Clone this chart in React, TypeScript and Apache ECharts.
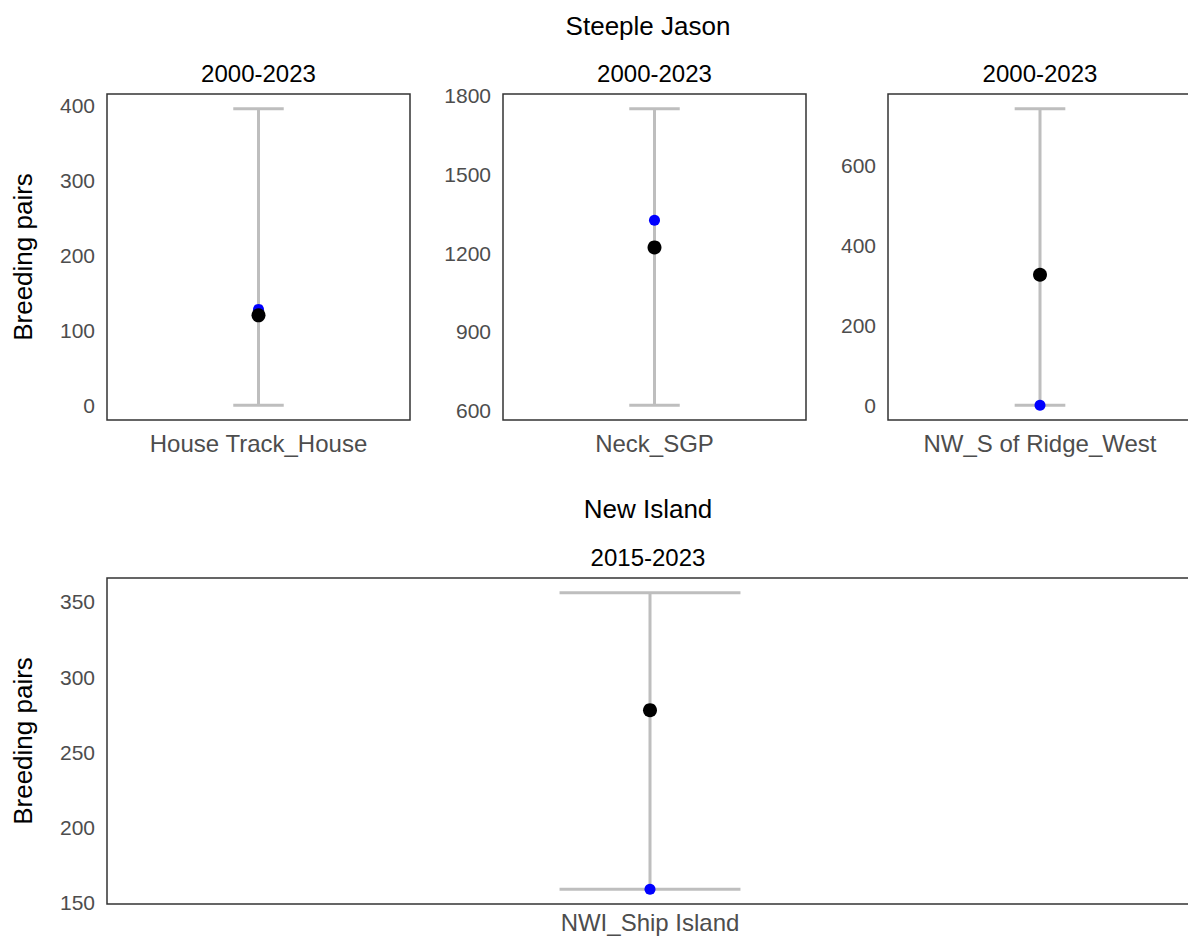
import React, { useEffect, useRef } from "react";
import * as echarts from "echarts";

// Breeding pairs per monitoring site: historical range, mean and latest count
const sites = ["House Track_House", "Neck_SGP", "NW_S of Ridge_West", "NWI_Ship Island"];
const periods = ["2000-2023", "2000-2023", "2000-2023", "2015-2023"];
const islands = ["Steeple Jason", "New Island"];
const minPairs = [0, 620, 0, 159];
const maxPairs = [396, 1751, 743, 356];
const meanPairs = [120, 1222, 327, 278];
const latestPairs = [128, 1326, 0, 159];
const tickLabels = [
  [0, 100, 200, 300, 400],
  [600, 900, 1200, 1500, 1800],
  [0, 200, 400, 600],
  [150, 200, 250, 300, 350],
];

const FONT = "'Liberation Sans', Arial, sans-serif";
const AXIS_TEXT = "#4d4d4d";

// panel rectangles (left, top, width, height)
const panels = [
  { left: 107, top: 94, width: 303, height: 326 },
  { left: 503, top: 94, width: 303, height: 326 },
  { left: 888, top: 94, width: 304, height: 326 },
  { left: 107, top: 578, width: 1086, height: 326 },
];

export default function App() {
  const ref = useRef<HTMLDivElement>(null);

  useEffect(() => {
    if (!ref.current) return;
    const chart = echarts.init(ref.current, null, { renderer: "svg" });

    const grid = panels.map((p) => ({
      left: p.left,
      top: p.top,
      width: p.width,
      height: p.height,
      show: true,
      borderColor: "#333333",
      borderWidth: 1.5,
      backgroundColor: "transparent",
      containLabel: false,
      outerBoundsMode: "none",
    }));

    const xAxis = sites.map((s, i) => ({
      type: "category",
      gridIndex: i,
      data: [s],
      axisLine: { show: false },
      axisTick: { show: false },
      axisLabel: { color: AXIS_TEXT, fontSize: 24, fontFamily: FONT, margin: i === 3 ? 6 : 11 },
    }));

    const yAxis = sites.map((_, i) => {
      const span = maxPairs[i] - minPairs[i];
      return {
        type: "value",
        gridIndex: i,
        min: minPairs[i] - span * 0.05,
        max: maxPairs[i] + span * 0.05,
        axisLine: { show: false },
        axisTick: { show: false },
        splitLine: { show: false },
        axisLabel: {
          color: AXIS_TEXT,
          fontSize: 21,
          fontFamily: FONT,
          margin: 12,
          customValues: tickLabels[i],
          formatter: (v: number) => String(v),
        },
        name: i === 0 || i === 3 ? "Breeding pairs" : "",
        nameLocation: "middle",
        nameRotate: 90,
        nameGap: 71,
        nameTextStyle: { color: "#000", fontSize: 26, fontFamily: FONT },
      };
    });

    const series: any[] = [];
    sites.forEach((_, i) => {
      series.push({
        type: "custom",
        xAxisIndex: i,
        yAxisIndex: i,
        data: [[0, minPairs[i], maxPairs[i]]],
        z: 1,
        renderItem: (params: any, api: any) => {
          const lo = api.coord([api.value(0), api.value(1)]);
          const hi = api.coord([api.value(0), api.value(2)]);
          const half = api.size([1, 0])[0] * 0.0833;
          const style = { stroke: "#bebebe", lineWidth: 3 };
          return {
            type: "group",
            children: [
              { type: "line", shape: { x1: lo[0], y1: lo[1], x2: hi[0], y2: hi[1] }, style },
              { type: "line", shape: { x1: lo[0] - half, y1: lo[1], x2: lo[0] + half, y2: lo[1] }, style },
              { type: "line", shape: { x1: hi[0] - half, y1: hi[1], x2: hi[0] + half, y2: hi[1] }, style },
            ],
          };
        },
      });
      series.push({
        type: "scatter",
        xAxisIndex: i,
        yAxisIndex: i,
        data: [latestPairs[i]],
        symbolSize: 11,
        itemStyle: { color: "#0000ff", opacity: 1 },
        z: 2,
      });
      series.push({
        type: "scatter",
        xAxisIndex: i,
        yAxisIndex: i,
        data: [meanPairs[i]],
        symbolSize: 14,
        itemStyle: { color: "#000000", opacity: 1 },
        z: 3,
      });
    });

    const heading = (text: string, x: number, y: number, size: number) => ({
      type: "text",
      x,
      y,
      style: {
        text,
        fill: "#000",
        font: `${size}px ${FONT}`,
        textAlign: "center",
        textVerticalAlign: "middle",
      },
    });

    chart.setOption({
      animation: false,
      backgroundColor: "#ffffff",
      grid,
      xAxis,
      yAxis,
      series,
      graphic: [
        heading(islands[0], 648, 26, 26),
        heading(periods[0], panels[0].left + panels[0].width / 2, 73, 24),
        heading(periods[1], panels[1].left + panels[1].width / 2, 73, 24),
        heading(periods[2], panels[2].left + panels[2].width / 2, 73, 24),
        heading(islands[1], 648, 509, 26),
        heading(periods[3], 648, 557, 24),
      ],
    });

    return () => chart.dispose();
  }, []);

  return (
    <div
      ref={ref}
      style={{ position: "absolute", left: 0, top: 0, width: 1188, height: 938 }}
    />
  );
}
